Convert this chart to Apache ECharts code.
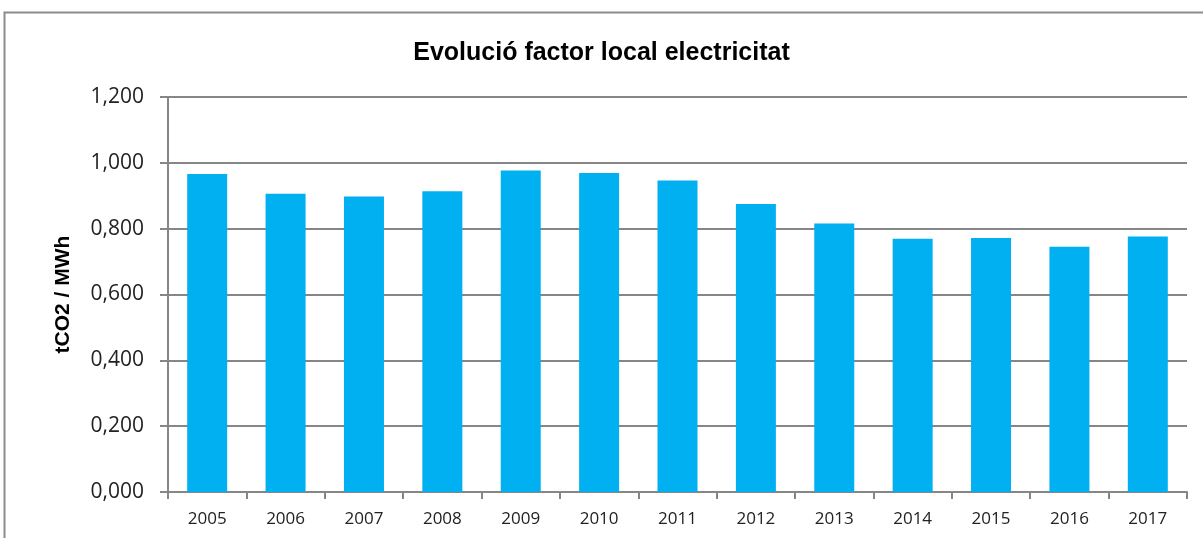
<!DOCTYPE html>
<html><head><meta charset="utf-8">
<script src="https://cdn.jsdelivr.net/npm/echarts@6/dist/echarts.min.js"></script>
<style>html,body{margin:0;padding:0;background:#fff}#c{width:1203px;height:538px}</style>
</head><body><div id="c"></div>
<script>
const years = ['2005','2006','2007','2008','2009','2010','2011','2012','2013','2014','2015','2016','2017'];
const factor = [0.966,0.906,0.898,0.914,0.977,0.969,0.946,0.875,0.816,0.769,0.772,0.745,0.776];
const titleText = 'Evolució factor local electricitat';
const yName = 'tCO2 / MWh';

const chart = echarts.init(document.getElementById('c'), null, {renderer:'canvas'});
chart.setOption({
  animation:false,
  backgroundColor:'#fff',
  graphic:[{type:'rect',shape:{x:4.5,y:12.5,width:1220,height:560},style:{fill:null,stroke:'#8c8c8c',lineWidth:2},silent:true}],
  title:{text:titleText,left:'center',top:36,textStyle:{fontFamily:'Liberation Sans',fontWeight:'bold',fontSize:25,color:'#000'}},
  grid:{left:168,right:16,top:97,bottom:46},
  xAxis:{type:'category',data:years,
    axisLine:{lineStyle:{color:'#868686',width:2}},
    axisTick:{show:true,length:7,lineStyle:{color:'#868686',width:2}},
    axisLabel:{fontFamily:'Open Sans',fontSize:17,color:'#222',margin:19}},
  yAxis:{type:'value',min:0,max:1.2,interval:0.2,
    name:yName,nameLocation:'middle',nameGap:94,nameRotate:90,
    nameTextStyle:{fontFamily:'Liberation Sans',fontWeight:'bold',fontSize:21,color:'#000'},
    axisLine:{show:true,lineStyle:{color:'#868686',width:2}},
    axisTick:{show:true,inside:false,length:8,lineStyle:{color:'#868686',width:2}},
    splitLine:{lineStyle:{color:'#868686',width:2}},
    axisLabel:{fontFamily:'Open Sans',fontSize:21,color:'#222',margin:24,
      formatter:v=>v.toFixed(3).replace('.',',')}},
  series:[{type:'bar',data:factor,barWidth:40,itemStyle:{color:'#00B0F0'}}]
});
</script></body></html>
